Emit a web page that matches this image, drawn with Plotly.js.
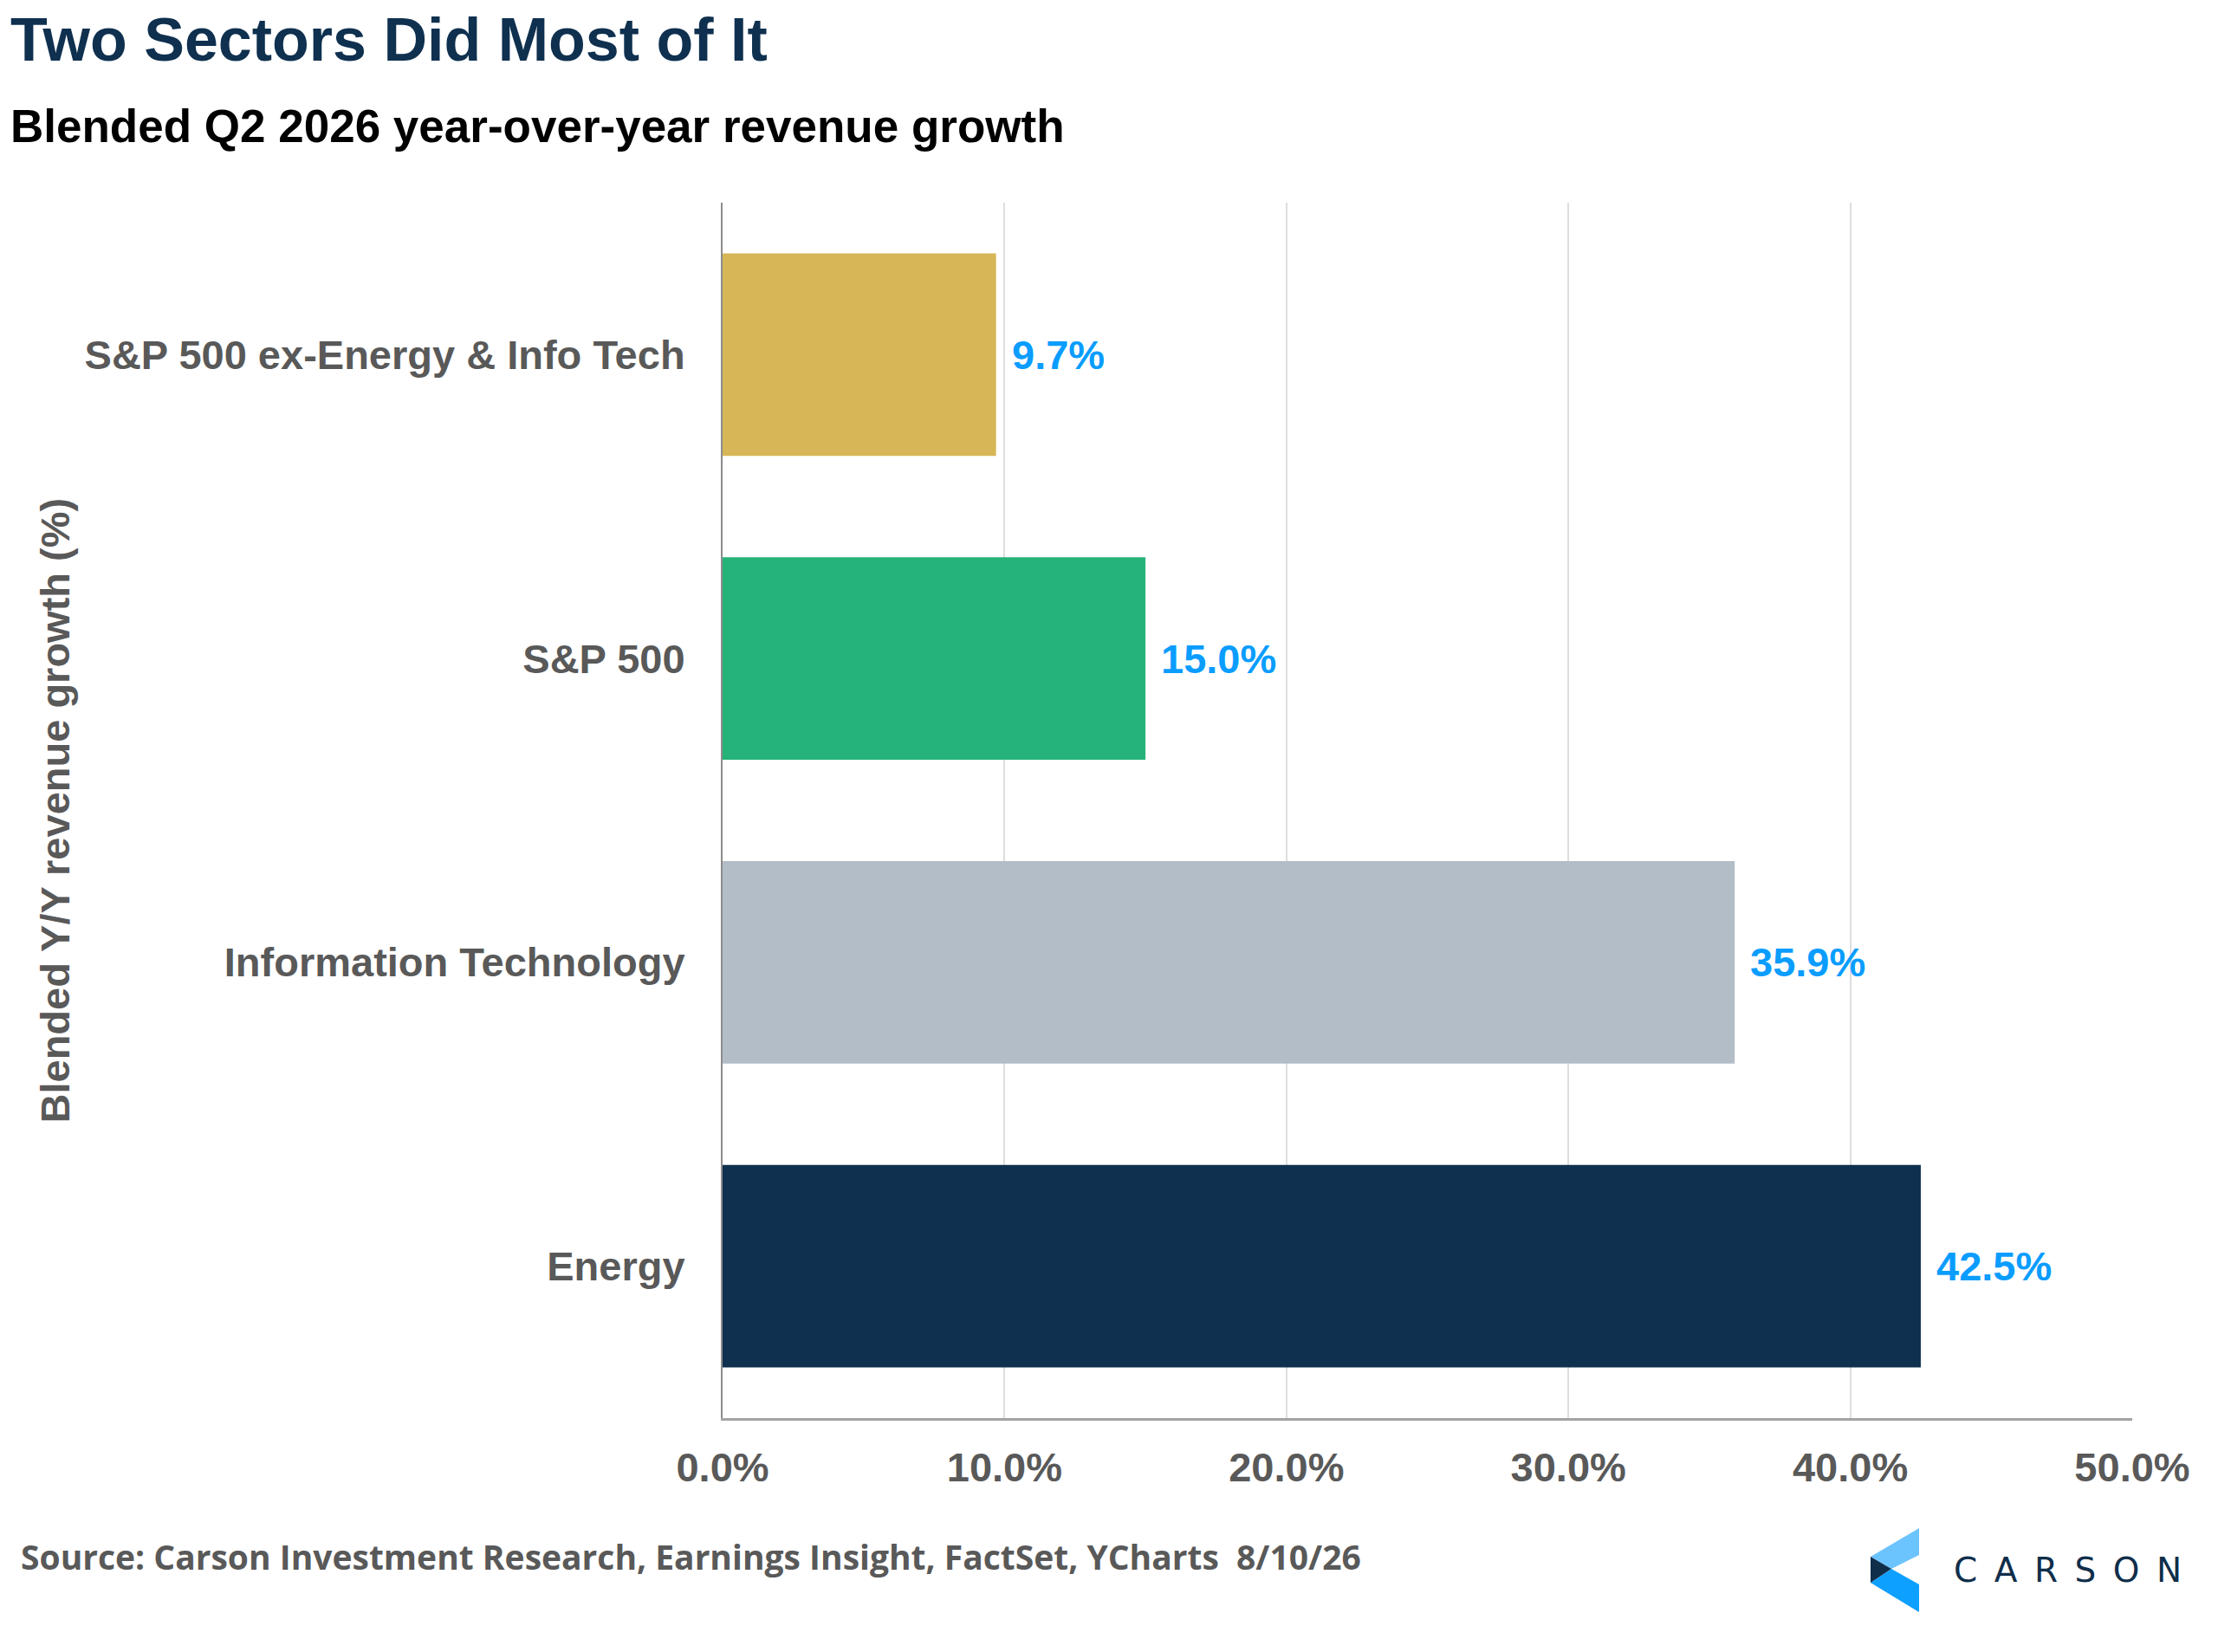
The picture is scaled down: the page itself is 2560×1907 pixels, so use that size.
<!DOCTYPE html>
<html>
<head>
<meta charset="utf-8">
<script src="https://cdn.plot.ly/plotly-3.0.1.min.js"></script>
<style>
  html, body { margin: 0; padding: 0; background: #fff; }
  #chart { width: 2560px; height: 1907px; }
</style>
</head>
<body>
<div id="chart"></div>
<script>
// data, top to bottom as in the picture
const categories = ["S&P 500 ex-Energy & Info Tech", "S&P 500", "Information Technology", "Energy"];
const growth = [9.7, 15.0, 35.9, 42.5];
const barColors = ["#d6b656", "#26b37a", "#b3bdc7", "#0f304f"];
const xTicks = [0, 10, 20, 30, 40, 50];

const W = 2560, H = 1907;
const L = 834, R = 2461, T = 234, B = 1637;
// pixel -> paper coords for the extra texts
const px = (x) => (x - L) / (R - L);
const py = (y) => (B - y) / (B - T);

const navy = "#0f304f", grey = "#595959", blue = "#0a9dff";
const arial = "Liberation Sans, Arial, sans-serif";

const valueNotes = categories.map((c, i) => ({
  x: growth[i],
  y: c,
  xref: "x",
  yref: "y",
  text: growth[i].toFixed(1) + "%",
  showarrow: false,
  xanchor: "left",
  yanchor: "middle",
  xshift: 16,
  font: { family: arial, size: 47, color: blue, weight: 700 },
}));

const layout = {
  width: W,
  height: H,
  margin: { l: L, r: W - R, t: T, b: H - B, pad: 0 },
  paper_bgcolor: "#fff",
  plot_bgcolor: "#fff",
  showlegend: false,
  bargap: 0.333,
  font: { family: arial, color: grey },
  xaxis: {
    range: [0, 50],
    tickvals: xTicks,
    ticktext: xTicks.map((v) => v.toFixed(1) + "%"),
    showgrid: true,
    gridcolor: "#dedede",
    gridwidth: 2,
    zeroline: false,
    showline: true,
    linecolor: "#a3a3a3",
    linewidth: 3,
    ticks: "",
    ticklabelstandoff: 14,
    tickfont: { family: arial, size: 47, color: grey, weight: 700 },
    fixedrange: true,
  },
  yaxis: {
    type: "category",
    autorange: "reversed",
    showgrid: false,
    zeroline: false,
    showline: true,
    linecolor: "#8c8c8c",
    linewidth: 2,
    ticks: "",
    ticklabelstandoff: 32,
    tickfont: { family: arial, size: 47, color: grey, weight: 700 },
    fixedrange: true,
  },
  annotations: [
    {
      xref: "paper", yref: "paper", x: px(10), y: py(46),
      xanchor: "left", yanchor: "middle", showarrow: false,
      text: "Two Sectors Did Most of It",
      font: { family: arial, size: 70, color: navy, weight: 700 },
    },
    {
      xref: "paper", yref: "paper", x: px(10), y: py(146),
      xanchor: "left", yanchor: "middle", showarrow: false,
      text: "Blended Q2 2026 year-over-year revenue growth",
      font: { family: arial, size: 53, color: "#000", weight: 700 },
    },
    {
      xref: "paper", yref: "paper", x: px(63), y: 0.5,
      xanchor: "center", yanchor: "middle", showarrow: false, textangle: -90,
      text: "Blended Y/Y revenue growth (%)",
      font: { family: arial, size: 47, color: grey, weight: 700 },
    },
    {
      xref: "paper", yref: "paper", x: px(22), y: py(1797),
      xanchor: "left", yanchor: "middle", showarrow: false,
      text: "Source: Carson Investment Research, Earnings Insight, FactSet, YCharts\u00a0 8/10/26",
      font: { family: "Open Sans, sans-serif", size: 39, color: grey, weight: 700 },
    },
    {
      xref: "paper", yref: "paper", x: px(2253), y: py(1812),
      xanchor: "left", yanchor: "middle", showarrow: false,
      text: "C\u2002A\u2002R\u2002S\u2002O\u2002N",
      font: { family: "DejaVu Sans, sans-serif", size: 39, color: "#0f2e4a" },
    },
    ...valueNotes,
  ],
  shapes: [
    // Carson logo mark
    {
      type: "path", xref: "paper", yref: "paper", line: { width: 0 }, fillcolor: "#6cc4ff",
      path: `M${px(2159)},${py(1797)} L${px(2215)},${py(1764)} L${px(2215)},${py(1795)} L${px(2183)},${py(1811)} Z`,
    },
    {
      type: "path", xref: "paper", yref: "paper", line: { width: 0 }, fillcolor: "#0ea0ff",
      path: `M${px(2159)},${py(1827)} L${px(2183)},${py(1811)} L${px(2215)},${py(1829)} L${px(2215)},${py(1861)} Z`,
    },
    {
      type: "path", xref: "paper", yref: "paper", line: { width: 0 }, fillcolor: "#0f2e4a",
      path: `M${px(2159)},${py(1797)} L${px(2183)},${py(1811)} L${px(2159)},${py(1827)} Z`,
    },
  ],
};

Plotly.newPlot(
  "chart",
  [
    {
      type: "bar",
      orientation: "h",
      y: categories,
      x: growth,
      marker: { color: barColors, line: { width: 0 } },
      hoverinfo: "none",
    },
  ],
  layout,
  { displayModeBar: false, staticPlot: true },
);
</script>
</body>
</html>
